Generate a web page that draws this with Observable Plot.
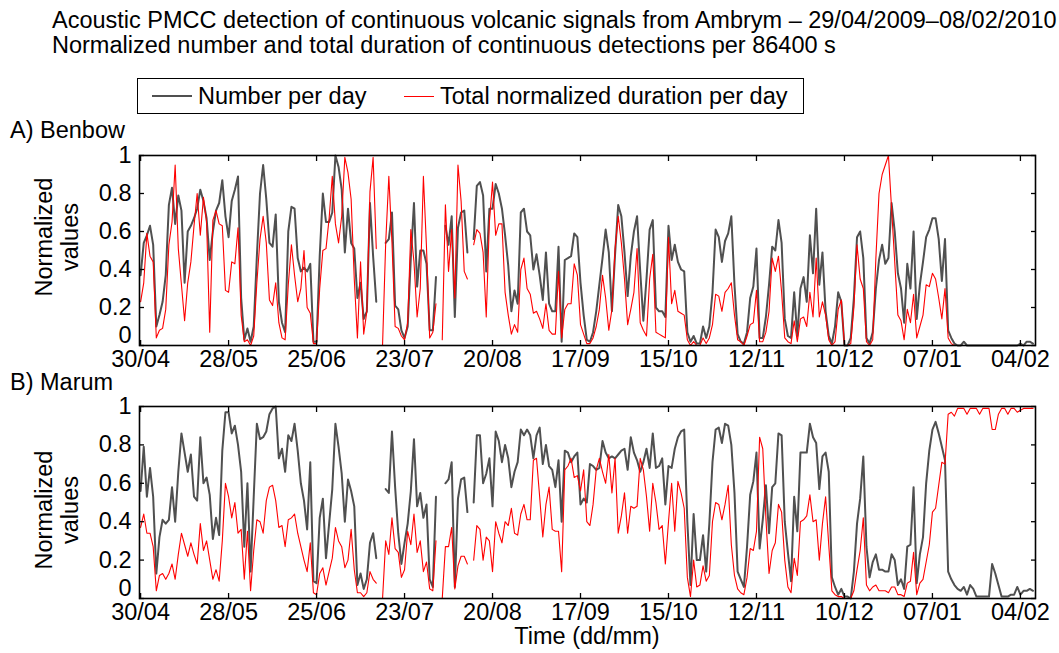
<!DOCTYPE html>
<html>
<head>
<meta charset="utf-8">
<script src="https://cdn.jsdelivr.net/npm/d3@7"></script>
<script src="https://cdn.jsdelivr.net/npm/@observablehq/plot@0.6"></script>
<style>
  html, body { margin: 0; padding: 0; background: #ffffff; }
  #root { position: relative; width: 1059px; height: 653px; overflow: hidden;
          font-family: "Liberation Sans", Arial, Helvetica, sans-serif; color: #000; font-size: 23.5px; }
  .abs { position: absolute; white-space: nowrap; }
  .ylab { position: absolute; width: 220px; height: 54px; line-height: 26px; text-align: center;
          transform: rotate(-90deg); }
  .panel { position: absolute; left: 0; }
</style>
</head>
<body>
<div id="root">
  <div class="abs" style="left:52px; top:8px; line-height:25px;">Acoustic PMCC detection of continuous volcanic signals from Ambrym – 29/04/2009–08/02/2010<br>Normalized number and total duration of continuous detections per 86400 s</div>
  <div class="abs" style="left:137px; top:78px; width:665px; height:34px; border:1.5px solid #000;"></div>
  <div class="abs" style="left:152px; top:95px; width:40px; height:0; border-top:2px solid #505050;"></div>
  <div class="abs" style="left:198px; top:82px; line-height:28px;">Number per day</div>
  <div class="abs" style="left:404px; top:95.5px; width:30px; height:0; border-top:1px solid #ff0000;"></div>
  <div class="abs" style="left:440px; top:82px; line-height:28px;">Total normalized duration per day</div>
  <div class="abs" style="left:10px; top:116px; line-height:28px;">A) Benbow</div>
  <div class="abs" style="left:10px; top:368px; line-height:28px;">B) Marum</div>
  <div class="ylab" style="left:-52px; top:210px;">Normalized<br>values</div>
  <div class="ylab" style="left:-52px; top:483px;">Normalized<br>values</div>
  <div class="abs" style="left:0; width:1174px; text-align:center; top:622px; line-height:28px;">Time (dd/mm)</div>
  <div id="pa" class="panel" style="top:145px;"></div>
  <div id="pb" class="panel" style="top:396px;"></div>
</div>
<script>
// ---- data (daily values from 30/04/2009 to 08/02/2010) ----
const startDay = "2009-04-30";
const tickDates = ["2009-04-30","2009-05-28","2009-06-25","2009-07-23","2009-08-20","2009-09-17",
                   "2009-10-15","2009-11-12","2009-12-10","2010-01-07","2010-02-04"];
const tickLabels = ["30/04","28/05","25/06","23/07","20/08","17/09","15/10","12/11","10/12","07/01","04/02"];
const yTicks = [0, 0.2, 0.4, 0.6, 0.8, 1];
const yTickLabels = ["0", "0.2", "0.4", "0.6", "0.8", "1"];

const benbowNumber = [
0.37,0.54,0.58,0.63,0.53,0.10,0.16,0.23,0.37,0.74,
0.83,0.64,0.79,0.71,0.33,0.60,0.63,0.67,0.72,0.82,
0.76,0.67,0.45,0.60,0.71,0.75,0.87,0.68,0.57,0.76,
0.82,0.89,0.25,0.03,0.09,0.02,0.10,0.47,0.80,0.95,
0.77,0.54,0.52,0.69,0.23,0.12,0.07,0.60,0.73,0.72,
0.46,0.39,0.41,0.39,0.43,0.02,0.02,0.47,0.80,0.65,
0.65,0.70,1.00,0.94,0.82,0.49,0.72,0.54,0.51,0.25,
0.33,0.14,0.18,0.75,0.47,0.23,null,null,0.54,0.56,
0.70,0.21,0.19,0.08,0.04,0.10,0.46,0.75,0.31,0.50,
0.50,0.43,0.08,0.08,0.36,null,null,0.63,0.53,0.68,
0.15,0.62,0.70,0.71,0.49,null,0.56,0.84,0.86,0.79,
0.39,0.72,0.72,0.85,0.80,0.72,0.58,0.42,0.18,0.29,
0.22,0.70,0.72,0.60,0.58,0.40,0.48,0.37,0.24,0.49,
0.22,0.18,0.18,0.52,0.02,0.45,0.46,0.47,0.59,0.57,
0.33,0.16,0.03,0.02,0.07,0.18,0.32,0.46,0.61,0.49,
0.18,0.48,0.74,0.68,0.49,0.26,0.47,0.60,0.68,0.39,
0.13,0.35,0.61,0.66,0.20,0.18,0.18,0.15,0.63,0.45,
0.53,0.44,0.40,0.39,0.07,0.02,0.05,0.01,0.01,0.10,
0.04,0.10,0.28,0.61,0.57,0.44,0.55,0.59,0.68,0.32,
0.06,0.02,0.01,0.07,0.25,0.31,0.51,0.04,0.04,0.15,
0.32,0.52,0.50,0.66,0.54,0.14,0.05,0.04,0.28,0.05,
0.30,0.36,0.23,0.58,0.38,0.72,0.32,0.49,0.18,0.05,
0.01,0.10,0.28,0.23,0.00,0.00,0.04,0.25,0.57,0.60,
0.46,0.04,0.01,0.07,0.30,0.45,0.53,0.43,0.46,0.75,
0.60,0.38,0.30,0.12,0.43,0.30,0.60,0.14,0.32,0.44,
0.57,0.61,0.67,0.67,0.56,0.34,0.56,0.08,0.04,0.01,
0.00,0.00,0.02,0.00,0.00,0.00,0.00,0.00,0.00,0.00,
0.00,0.00,0.00,0.00,0.00,0.00,0.00,0.00,0.00,0.00,
0.01,0.00,0.02,0.02,0.01];

const benbowDuration = [
0.23,0.33,0.59,0.47,0.44,0.04,0.08,0.09,0.19,0.53,
0.65,0.95,0.51,0.32,0.13,0.33,0.44,0.63,0.80,0.58,
0.78,0.65,0.07,0.66,0.71,0.64,0.63,0.29,0.28,0.44,
0.43,0.62,0.16,0.02,0.03,0.00,0.05,0.33,0.56,0.68,
0.54,0.24,0.21,0.33,0.12,0.04,0.03,0.32,0.53,0.37,
0.23,0.30,0.50,0.20,0.17,0.01,0.01,0.30,0.50,0.51,
0.67,0.89,0.64,0.54,0.68,0.99,0.91,0.77,0.35,0.04,
0.44,0.06,0.18,0.81,0.99,0.51,null,0.00,0.54,0.89,
0.54,0.10,0.09,0.05,0.03,0.12,0.61,0.44,0.15,0.30,
0.89,0.51,0.04,0.07,0.22,null,0.03,0.74,0.39,0.61,
0.25,0.95,0.76,0.39,0.35,null,0.53,0.61,0.59,0.49,
0.15,0.65,0.86,0.58,0.64,0.64,0.28,0.16,0.06,0.11,
0.07,0.40,0.46,0.30,0.27,0.17,0.18,0.14,0.09,0.22,
0.08,0.06,0.06,0.39,0.04,0.19,0.22,0.22,0.43,0.37,
0.11,0.06,0.01,0.01,0.04,0.10,0.19,0.37,0.25,0.08,
0.19,0.51,0.68,0.54,0.35,0.11,0.19,0.28,0.51,0.12,
0.08,0.05,0.35,0.48,0.07,0.06,0.05,0.04,0.57,0.22,
0.29,0.18,0.17,0.16,0.03,0.00,0.02,0.00,0.00,0.04,
0.01,0.04,0.11,0.27,0.26,0.18,0.28,0.30,0.33,0.16,
0.03,0.02,0.00,0.05,0.11,0.12,0.29,0.02,0.02,0.07,
0.18,0.46,0.39,0.47,0.28,0.04,0.02,0.01,0.13,0.02,
0.14,0.15,0.10,0.28,0.15,0.46,0.15,0.23,0.16,0.03,
0.00,0.02,0.19,0.24,0.00,0.00,0.01,0.20,0.53,0.35,
0.30,0.02,0.00,0.03,0.46,0.80,0.90,0.95,1.00,0.72,
0.44,0.16,0.13,0.03,0.19,0.12,0.27,0.04,0.10,0.16,
0.32,0.31,0.38,0.35,0.25,0.14,0.30,0.04,0.01,0.00,
0.00,0.00,0.00,0.00,0.00,0.00,0.00,0.00,0.00,0.00,
0.00,0.00,0.00,0.00,0.00,0.00,0.00,0.00,0.00,0.00,
0.00,0.00,0.00,0.00,0.00];

const marumNumber = [
0.56,0.79,0.53,0.68,0.53,0.13,0.32,0.41,0.39,0.41,
0.58,0.40,0.66,0.86,0.76,0.66,0.75,0.53,0.51,0.84,
0.60,0.63,0.54,0.31,0.42,0.33,0.77,0.97,0.97,0.86,
0.90,0.80,0.66,0.27,0.60,0.14,0.53,0.91,0.83,0.84,
0.87,0.96,0.99,1.00,0.73,0.78,0.66,0.85,0.82,0.91,
0.77,0.60,0.51,0.36,0.71,0.09,0.08,0.42,0.52,0.21,
0.39,0.57,0.91,0.79,0.65,0.40,0.62,0.56,0.48,0.07,
0.13,0.05,0.10,0.29,0.34,0.21,null,null,0.57,0.55,
0.87,0.58,0.34,0.18,0.29,0.39,0.56,0.83,0.48,0.55,
0.42,0.49,0.10,0.06,0.53,null,null,0.60,0.62,0.71,
0.06,0.52,0.62,0.63,0.45,null,0.50,0.85,0.85,0.60,
0.65,0.73,0.48,0.87,0.82,0.71,0.80,0.73,0.58,0.66,
0.71,0.88,0.85,0.88,0.85,0.73,0.85,0.89,0.70,0.80,
0.69,0.67,0.58,0.72,0.40,0.77,0.76,0.71,0.74,0.76,
0.49,0.52,0.50,0.70,0.69,0.67,0.68,0.82,0.76,0.73,
0.74,0.73,0.75,0.77,0.78,0.67,0.84,0.76,0.72,0.66,
0.71,0.78,0.68,0.86,0.68,0.69,0.73,0.49,0.69,0.68,
0.78,0.84,0.87,0.88,0.40,0.07,0.44,0.20,0.20,0.33,
0.14,0.39,0.71,0.88,0.89,0.81,0.91,0.90,0.80,0.55,
0.14,0.10,0.06,0.27,0.54,0.61,0.76,0.26,0.41,0.59,
0.34,0.58,0.60,0.86,0.85,0.40,0.24,0.09,0.53,0.35,
0.76,0.76,0.76,0.91,0.84,0.81,0.57,0.74,0.76,0.66,
0.11,0.06,0.02,0.05,0.01,0.01,0.00,0.14,0.39,0.52,
0.74,0.27,0.11,0.19,0.23,0.15,0.15,0.14,0.14,0.23,
0.20,0.07,0.10,0.05,0.27,0.28,0.58,0.08,0.23,0.32,
0.60,0.77,0.88,0.92,0.86,0.79,0.72,0.14,0.10,0.07,
0.05,0.04,0.06,0.02,0.07,0.05,0.01,0.01,0.01,0.01,
0.01,0.18,0.13,0.07,0.01,0.01,0.01,0.02,0.02,0.06,
0.02,0.04,0.04,0.05,0.04];

const marumDuration = [
0.37,0.44,0.34,0.34,0.27,0.04,0.12,0.13,0.10,0.13,
0.18,0.10,0.23,0.34,0.28,0.22,0.29,0.23,0.18,0.39,
0.25,0.30,0.20,0.10,0.15,0.09,0.30,0.60,0.53,0.42,
0.50,0.34,0.36,0.10,0.35,0.04,0.25,0.41,0.40,0.34,
0.51,0.58,0.59,0.51,0.37,0.38,0.27,0.41,0.42,0.44,
0.34,0.27,0.20,0.14,0.29,0.03,0.02,0.13,0.16,0.07,
0.14,0.21,0.37,0.30,0.27,0.16,0.20,0.36,0.15,0.03,
0.03,0.01,0.03,0.14,0.10,0.08,null,0.00,0.30,0.23,
0.42,0.26,0.24,0.11,0.15,0.35,0.28,0.44,0.24,0.30,
0.14,0.19,0.05,0.04,0.30,null,0.00,0.27,0.27,0.37,
0.05,0.17,0.22,0.22,0.18,null,0.20,0.38,0.36,0.20,
0.32,0.30,0.14,0.40,0.34,0.29,0.40,0.38,0.47,0.34,
0.33,0.44,0.49,0.41,0.41,0.72,0.73,0.53,0.32,0.49,
0.58,0.36,0.35,0.35,0.14,0.67,0.69,0.73,0.63,0.64,
0.56,0.67,0.40,0.38,0.49,0.67,0.73,0.66,0.60,0.75,
0.55,0.73,0.34,0.43,0.55,0.34,0.48,0.47,0.48,0.73,
0.67,0.53,0.35,0.60,0.50,0.36,0.38,0.18,0.40,0.60,
0.35,0.61,0.55,0.47,0.11,0.01,0.20,0.06,0.07,0.17,
0.09,0.12,0.40,0.50,0.49,0.41,0.49,0.59,0.28,0.12,
0.05,0.03,0.02,0.11,0.26,0.25,0.35,0.84,0.78,0.42,
0.13,0.25,0.29,0.49,0.45,0.20,0.06,0.03,0.21,0.12,
0.40,0.41,0.43,0.54,0.40,0.41,0.20,0.39,0.53,0.28,
0.04,0.02,0.01,0.01,0.00,0.00,0.00,0.04,0.15,0.25,
0.42,0.07,0.04,0.06,0.07,0.04,0.04,0.04,0.03,0.06,
0.06,0.02,0.02,0.01,0.08,0.09,0.24,0.02,0.08,0.10,
0.19,0.28,0.45,0.47,0.59,0.71,0.70,0.96,0.97,0.95,
0.99,0.99,0.99,0.96,0.99,0.99,0.99,0.96,0.99,0.99,
0.99,0.88,0.88,0.96,0.99,0.99,0.96,0.99,0.99,0.97,
0.98,0.99,0.99,0.99,0.99];

// ---- drawing ----
const DAY = 86400000;
const t0 = new Date(startDay + "T00:00:00Z").getTime();
const ticks = tickDates.map(s => new Date(s + "T00:00:00Z"));
const labelOf = new Map(ticks.map((d, i) => [d.getTime(), tickLabels[i]]));
const yLabelOf = new Map(yTicks.map((v, i) => [v, yTickLabels[i]]));
const xDomain = [new Date(t0 - 0.35 * DAY), new Date(t0 + 284.8 * DAY)];
const FONT = '"Liberation Sans", Arial, Helvetica, sans-serif';

function panel(num, dur, plotHeight) {
  const rows = num.map((v, i) => ({date: new Date(t0 + i * DAY), num: v, dur: dur[i]}));
  const blank = () => "";
  const upper = yTicks.filter(v => v > 0);
  const lower = yTicks.filter(v => v === 0);
  return Plot.plot({
    width: 1059,
    height: plotHeight + 40,
    marginTop: 10, marginBottom: 30, marginLeft: 139, marginRight: 24,
    style: {fontFamily: FONT, fontSize: "23.5px", color: "#000", background: "transparent", overflow: "visible"},
    x: {type: "utc", domain: xDomain},
    y: {domain: [0, 1]},
    marks: [
      Plot.lineY(rows, {x: "date", y: "num", stroke: "#505050", strokeWidth: 2, strokeLinejoin: "round"}),
      Plot.lineY(rows, {x: "date", y: "dur", stroke: "#ff0000", strokeWidth: 1.1, strokeLinejoin: "round"}),
      Plot.axisX(ticks, {anchor: "bottom", tickSize: 0, tickPadding: 5, tickFormat: d => labelOf.get(d.getTime()), label: null, fill: "#000"}),
      Plot.axisX(ticks, {anchor: "bottom", tickSize: -5, tickFormat: blank, label: null, strokeWidth: 1.3}),
      Plot.axisX(ticks, {anchor: "top", tickSize: -5, tickFormat: blank, label: null, strokeWidth: 1.3}),
      Plot.axisY(upper, {anchor: "left", tickSize: 0, tickPadding: 8, tickFormat: d => yLabelOf.get(d), label: null, fill: "#000"}),
      Plot.axisY(lower, {anchor: "left", tickSize: 0, tickPadding: 8, dy: -10, tickFormat: d => yLabelOf.get(d), label: null, fill: "#000"}),
      Plot.axisY(yTicks, {anchor: "left", tickSize: -5, tickFormat: blank, label: null, strokeWidth: 1.3}),
      Plot.axisY(yTicks, {anchor: "right", tickSize: -5, tickFormat: blank, label: null, strokeWidth: 1.3}),
      Plot.frame({stroke: "#000", strokeWidth: 1.6})
    ]
  });
}

document.getElementById("pa").appendChild(panel(benbowNumber, benbowDuration, 190));
document.getElementById("pb").appendChild(panel(marumNumber, marumDuration, 192));
</script>
</body>
</html>
